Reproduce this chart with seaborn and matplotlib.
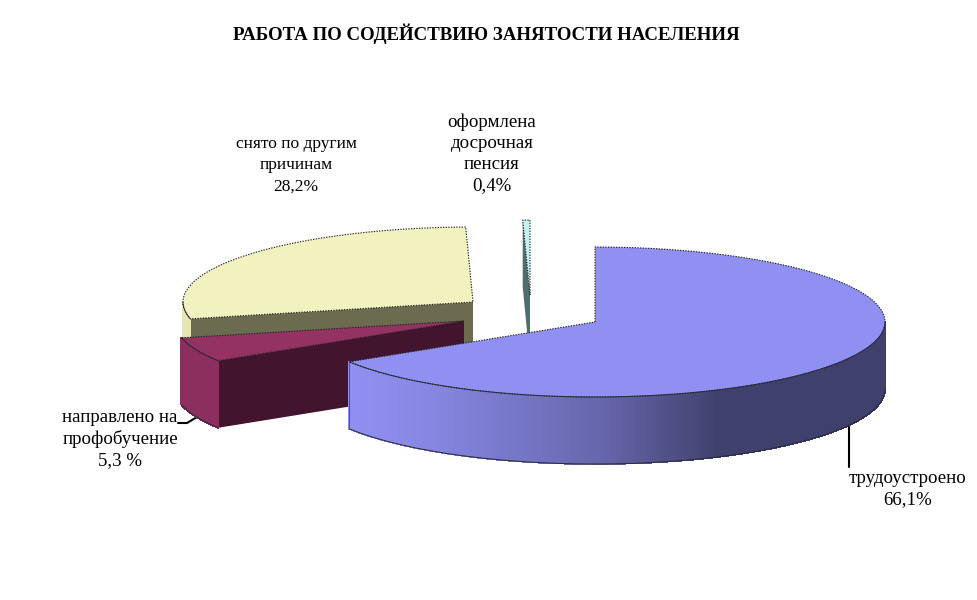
import numpy as np
import pandas as pd
import matplotlib
matplotlib.use("Agg")
import matplotlib.pyplot as plt
from matplotlib.colors import to_rgb
import seaborn as sns

# ---- data ----
categories = ["трудоустроено", "направлено на профобучение", "снято по другим причинам", "оформлена досрочная пенсия"]
shares = [66.1, 5.3, 28.2, 0.4]
label_texts = ["трудоустроено\n66,1%", "направлено на\nпрофобучение\n5,3 %",
               "снято по другим\nпричинам\n28,2%", "оформлена\nдосрочная\nпенсия\n0,4%"]
title_text = "РАБОТА ПО СОДЕЙСТВИЮ ЗАНЯТОСТИ НАСЕЛЕНИЯ"

# ---- style / layout ----
top_colors = ["#9090F2", "#933263", "#F2F2C0", "#C0F2F0"]
face_colors = ["#44447A", "#42142D", "#6B6B50", "#4F6E6E"]
wall_left = ["#9090F2", "#8C2F5E", "#EDEDB8", "#C0F2F0"]
wall_right = ["#40406C", "#8C2F5E", "#DFDFAE", "#C0F2F0"]
centres_x = [595, 464, 473, 530]
centres_y = [322, 321, 302, 295]
label_x = [908, 120, 296, 492]
label_y = [489, 439, 165, 154]
label_sizes = [13.6, 13.6, 12.5, 13.6]
label_spacing = [1.32, 1.32, 1.43, 1.32]
RX, RY, DEPTH = 290, 75, 67

sns.set_theme(style="white")
plt.rcParams["font.family"] = ["Liberation Serif", "DejaVu Serif"]

fig, ax = plt.subplots(figsize=(9.77, 6.0), dpi=100)
ax.set_position([0, 0, 1, 1])
ax.set_xlim(0, 977)
ax.set_ylim(600, 0)
ax.axis("off")

df = pd.DataFrame({"category": categories, "share": shares,
                   "cx": centres_x, "cy": centres_y})
df["end"] = df["share"].cumsum() / df["share"].sum() * 360
df["start"] = df["end"].shift(fill_value=0)


def rim(cx, cy, theta):
    t = np.radians(theta)
    return cx + RX * np.sin(t), cy - RY * np.cos(t)


def outline(xs, ys, z, dark="#30304a", lw=0.8):
    ax.plot(xs, ys, color=dark, lw=lw, zorder=z, solid_capstyle="round")


# back-to-front order: thin sliver, yellow, maroon, blue
for z, i in enumerate([3, 2, 1, 0]):
    row = df.iloc[i]
    z0 = 10 * (z + 1)
    cx, cy, a0, a1 = row.cx, row.cy, row.start, row.end

    # cut face at the starting radius
    ex, ey = rim(cx, cy, a0)
    if i != 0:
        ax.fill([cx, ex, ex, cx], [cy, ey, ey + DEPTH, cy + DEPTH],
                color=face_colors[i], lw=0, zorder=z0)

    # curved front wall with left-to-right shading
    lo, hi = max(a0, 90), min(a1, 270)
    if hi > lo:
        th = np.linspace(lo, hi, int((hi - lo) * 3) + 2)
        xs, ys = rim(cx, cy, th)
        c_l, c_r = np.array(to_rgb(wall_left[i])), np.array(to_rgb(wall_right[i]))
        for k in range(len(th) - 1):
            xm = (xs[k] + xs[k + 1]) / 2
            if i == 0:
                f = np.interp(xm, [348, 430, 600, 720, 885], [0, 0.12, 0.52, 1, 1])
            else:
                f = 0.5
            col = c_l + (c_r - c_l) * f
            ax.fill([xs[k], xs[k + 1], xs[k + 1], xs[k]],
                    [ys[k], ys[k + 1], ys[k + 1] + DEPTH, ys[k] + DEPTH],
                    facecolor=col, edgecolor=col, lw=0.6, antialiased=False,
                    zorder=z0 + 1)
        outline(xs, ys + DEPTH, z0 + 3, dark="#2a2a3a", lw=0.7)
        outline(xs, ys, z0 + 3, dark="#35354f", lw=0.7)
        if i == 0:
            outline([xs[-1], xs[-1]], [ys[-1], ys[-1] + DEPTH], z0 + 3, dark="#55558a")

    # top surface
    th = np.linspace(a0, a1, max(int(a1 - a0) * 2, 3))
    xs, ys = rim(cx, cy, th)
    px = np.r_[cx, xs, cx]
    py = np.r_[cy, ys, cy]
    ax.fill(px, py, color=top_colors[i], lw=0, zorder=z0 + 2)
    ax.plot(px, py, color="#222222", lw=0.8, ls=(0, (1.2, 1.2)), zorder=z0 + 3)

# leader lines
ax.plot([849, 849], [427, 467], color="black", lw=1.5, zorder=60)
ax.plot([178, 187, 197], [423, 423, 417], color="black", lw=1.5, zorder=5)

# labels
for txt, x, y, fs, sp in zip(label_texts, label_x, label_y, label_sizes, label_spacing):
    ax.text(x, y, txt, ha="center", va="center", fontsize=fs, color="black",
            linespacing=sp, zorder=70)

ax.text(486, 34, title_text, ha="center", va="center", fontsize=13.6,
        fontweight="bold", color="black", zorder=70)

fig.savefig("out.png", dpi=100, facecolor="white")
